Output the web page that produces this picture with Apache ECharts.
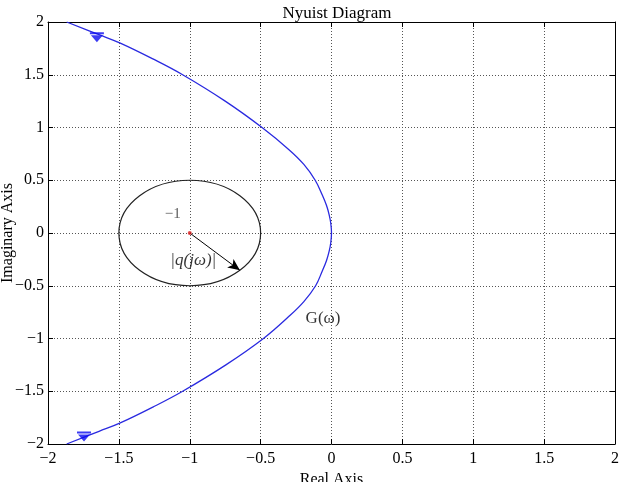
<!DOCTYPE html>
<html>
<head>
<meta charset="utf-8">
<script src="https://cdn.jsdelivr.net/npm/echarts@6/dist/echarts.min.js"></script>
</head>
<body style="margin:0;background:#fff">
<div id="main" style="width:630px;height:482px;"></div>
<script>
// Nyquist curve G(w) (top branch to bottom branch)
var curveRe = [-1.868, -1.64, -1.49, -1.26, -1.05, -0.75, -0.49, -0.30, -0.195, -0.115, -0.065, -0.035, -0.016, -0.005, 0, -0.005, -0.016, -0.035, -0.065, -0.112, -0.195, -0.30, -0.48, -0.745, -1.05, -1.26, -1.49, -1.64, -1.868];
var curveIm = [2.0, 1.88, 1.80, 1.65, 1.5, 1.25, 1.0, 0.79, 0.65, 0.5, 0.36, 0.26, 0.17, 0.09, 0, -0.09, -0.17, -0.26, -0.36, -0.5, -0.65, -0.79, -1.0, -1.25, -1.5, -1.65, -1.80, -1.88, -2.0];
// direction arrows on the curve
var dirRe = [-1.655, -1.746];
var dirIm = [1.855, -1.93];
// critical point and the |q(jw)| circle
var critical = [-1, 0];
var qRadius = 0.5;
var arrowEnd = [-0.646, -0.354];
// axis ticks
var ticks = [-2, -1.5, -1, -0.5, 0, 0.5, 1, 1.5, 2];
// text notes
var notes = [
  { text: '\u22121', at: [-1.12, 0.18] },
  { text: '|q(j\u03c9)|', at: [-0.975, -0.263] },
  { text: 'G(\u03c9)', at: [-0.06, -0.806] }
];

var serif = '"Liberation Serif", "DejaVu Serif", serif';
function fmt(v) {
  return v < 0 ? '\u2212' + Math.abs(v) : String(v);
}

var curve = curveRe.map(function (x, i) { return [x, curveIm[i]]; });
var dirs = dirRe.map(function (x, i) { return [x, dirIm[i]]; });

function axisBase(pos, showLabel) {
  return {
    type: 'value',
    min: ticks[0],
    max: ticks[ticks.length - 1],
    interval: 0.5,
    position: pos,
    axisLine: { show: true, onZero: false, lineStyle: { color: '#000', width: 1 } },
    axisTick: { show: true, inside: true, length: 5, lineStyle: { color: '#000' } },
    axisLabel: {
      show: showLabel, formatter: fmt, color: '#000',
      fontFamily: serif, fontSize: 16, margin: pos === 'left' ? 4 : 7
    },
    splitLine: { show: showLabel, lineStyle: { color: '#555', type: [1, 2], width: 1 } }
  };
}

var xMain = axisBase('bottom', true);
xMain.name = 'Real Axis';
xMain.nameLocation = 'middle';
xMain.nameGap = 28;
xMain.nameMoveOverlap = false;
xMain.nameTextStyle = { fontFamily: serif, fontSize: 16, color: '#000', verticalAlign: 'top' };
var yMain = axisBase('left', true);
yMain.name = 'Imaginary Axis';
yMain.nameLocation = 'middle';
yMain.nameGap = 32;
yMain.nameMoveOverlap = false;
yMain.nameTextStyle = { fontFamily: serif, fontSize: 16, color: '#000' };

var myChart = echarts.init(document.getElementById('main'));
var option = {
  animation: false,
  backgroundColor: '#fff',
  title: {
    text: 'Nyuist Diagram',
    left: 332, top: 0,
    textAlign: 'center',
    textStyle: { fontFamily: serif, fontSize: 17, fontWeight: 'normal', color: '#000' }
  },
  grid: { left: 48, right: 15, top: 22, bottom: 38, containLabel: false, outerBoundsMode: 'none' },
  xAxis: [xMain, axisBase('top', false)],
  yAxis: [yMain, axisBase('right', false)],
  series: [
    {
      name: 'G',
      type: 'line',
      data: curve,
      smooth: 0.4,
      showSymbol: false,
      lineStyle: { color: '#2a2ae0', width: 1.3 },
      z: 3
    },
    {
      name: 'direction',
      type: 'scatter',
      data: dirs,
      symbol: 'path://M0,0 L14,0 L14,2 L0,2 Z M1,3 L13,3 L7,10 Z',
      symbolSize: [14, 10],
      itemStyle: { color: '#0a0af0' },
      z: 4
    },
    {
      name: 'q circle',
      type: 'custom',
      data: [[critical[0], critical[1], qRadius]],
      renderItem: function (params, api) {
        var c = api.coord([api.value(0), api.value(1)]);
        var r = api.value(2);
        var e = api.coord([api.value(0) + r, api.value(1) + r]);
        var rx = e[0] - c[0], ry = c[1] - e[1];
        return {
          type: 'path',
          shape: {
            pathData: 'M0 1 A1 1 0 1 0 2 1 A1 1 0 1 0 0 1 Z',
            x: c[0] - rx, y: c[1] - ry, width: 2 * rx, height: 2 * ry,
            layout: 'cover'
          },
          style: { fill: 'none', stroke: '#222', lineWidth: 1.2 }
        };
      },
      z: 2
    },
    {
      name: 'critical',
      type: 'scatter',
      data: [critical],
      symbol: 'circle',
      symbolSize: 4,
      itemStyle: { color: '#e02020' },
      markLine: {
        silent: true,
        symbol: ['none', 'arrow'],
        symbolSize: [8, 12],
        label: { show: false },
        lineStyle: { color: '#000', width: 1, type: 'solid' },
        data: [[{ coord: critical }, { coord: arrowEnd }]]
      },
      z: 5
    },
    {
      name: 'notes',
      type: 'scatter',
      symbolSize: 0,
      data: notes.map(function (n, i) {
        return {
          value: n.at,
          label: {
            show: true,
            position: 'inside',
            formatter: n.text,
            fontFamily: serif,
            fontSize: i === 0 ? 15 : 17,
            fontStyle: i === 1 ? 'italic' : 'normal',
            color: i === 0 ? '#333' : '#000'
          }
        };
      }),
      z: 6
    }
  ]
};
myChart.setOption(option);
</script>
</body>
</html>
